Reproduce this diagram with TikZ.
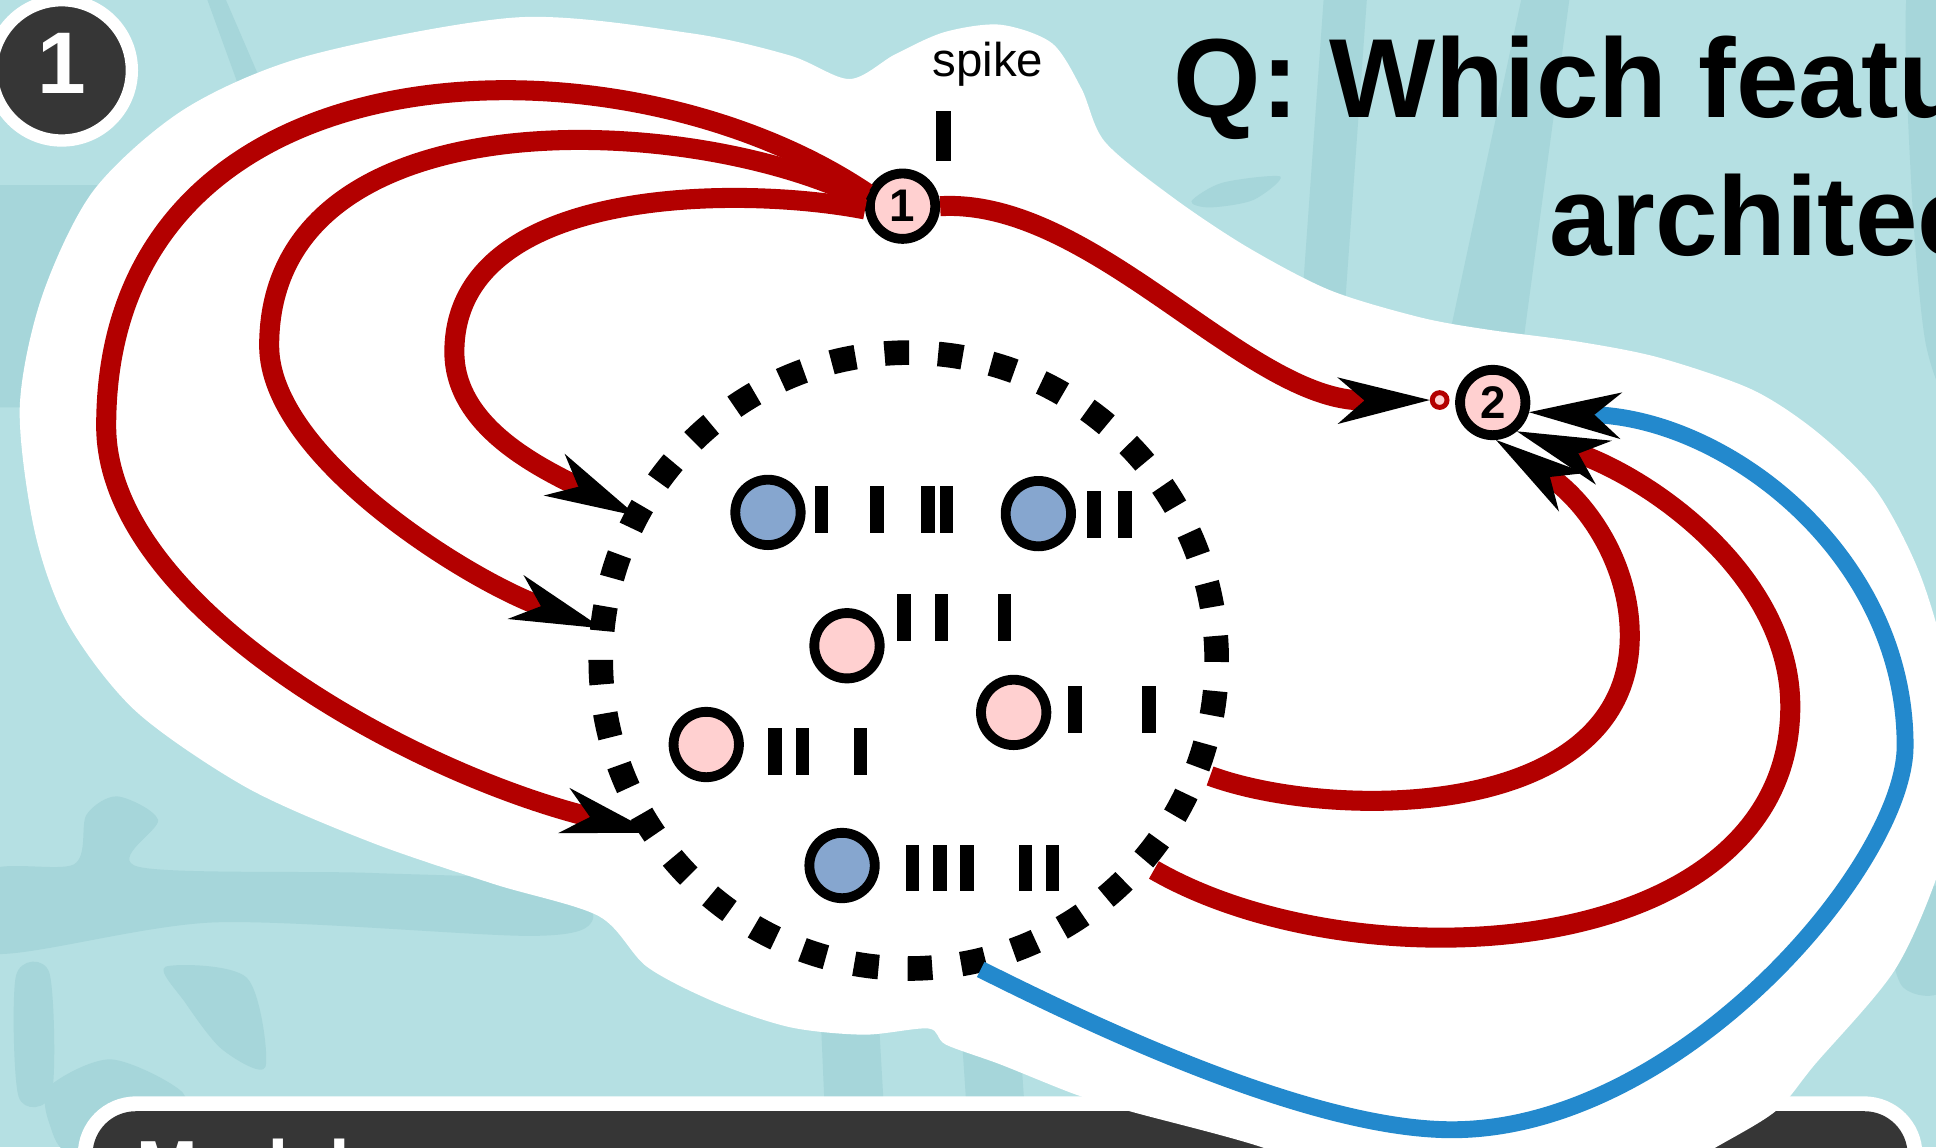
\documentclass[tikz,border=0pt]{standalone}
\usepackage{fontspec}
\setmainfont{Liberation Sans}
\usepackage{tikz}
\usetikzlibrary{arrows.meta}
\usepackage{xcolor}
\definecolor{sea}{HTML}{B5E0E3}
\definecolor{seadark}{HTML}{A6D6DA}
\definecolor{synred}{HTML}{B30000}
\definecolor{inhblue}{HTML}{2389CD}
\definecolor{excfill}{HTML}{FFD0D0}
\definecolor{inhfill}{HTML}{86A6CF}
\definecolor{barclr}{HTML}{363636}
\newcommand\spikerow[2]{
  \foreach \sx in {#2} \fill[black] (\sx-5.5,#1-19) rectangle (\sx+5.5,#1+19);
}

\begin{document}
\begin{tikzpicture}[x=0.012347cm, y=-0.012347cm,
	>={Stealth[length=26.3pt,width=13.3pt,inset=7.7pt,line width=0pt,color=black]},
	neuron/.style={circle, draw=black, line width=2.8pt, minimum size=18.6pt, inner sep=0pt, font=\bfseries\fontsize{13pt}{13pt}\selectfont},
	exc/.style={neuron, fill=excfill},
	inh/.style={neuron, fill=inhfill},
	redline/.style={draw=synred, line width=5.7pt},
	blueline/.style={draw=inhblue, line width=4.8pt},
	ringstart/.style={shorten <=4.2pt}]
		\useasboundingbox (0,0) rectangle (1568,929);
		\clip (0,0) rectangle (1568,929);
		\fill[sea] (0,0) rectangle (1568,929);
		\fill[seadark] (168,0) -- (183,0) -- (214,72) -- (197,80) -- cycle;
		\fill[seadark] (-10,150) -- (80,150) -- (60,330) -- (-10,330) -- cycle;
		\fill[seadark] plot[smooth cycle] coordinates {(-10,706) (60,700) (70,660) (95,645) (128,664) (112,702) (300,707) (450,715) (480,745) (430,758) (175,747) (-10,772)};
		\fill[seadark] plot[smooth cycle] coordinates {(134,783) (200,792) (215,864) (180,850) (150,812)};
		\fill[seadark] plot[smooth cycle] coordinates {(13,790) (40,788) (42,885) (15,888)};
		\fill[seadark] plot[smooth cycle] coordinates {(40,880) (90,858) (148,885) (140,915) (60,935) (40,910)};
		\fill[seadark] (665,830) -- (712,830) -- (716,900) -- (668,900) -- cycle;
		\fill[seadark] (779,840) -- (826,840) -- (830,900) -- (783,900) -- cycle;
		\fill[seadark] (1072,0) -- (1107,0) -- (1087,280) -- (1052,280) -- cycle;
		\fill[seadark] (1232,0) -- (1271,0) -- (1232,290) -- (1170,290) -- cycle;
		\fill[seadark] plot[smooth cycle] coordinates {(965,163) (990,148) (1037,143) (1015,162) (980,168)};
		\fill[seadark] plot[smooth cycle] coordinates {(1545,-10) (1580,-10) (1580,300) (1560,280) (1548,150)};
		\fill[seadark] plot[smooth cycle] coordinates {(1530,736) (1575,720) (1575,800) (1540,798)};
		\fill[white, rounded corners=16.5pt] (63,888) rectangle (1557,1010);
		\fill[barclr, rounded corners=12.3pt] (75,900) rectangle (1545,1010);
		\node[anchor=base west, inner sep=0pt, text=white, font=\bfseries\fontsize{21pt}{21pt}\selectfont] (bartitle) at (110,966) {Model};
		\fill[white] plot[smooth cycle] coordinates {(76,154) (150,88) (250,45) (420,14) (560,27) (640,45) (688,64) (725,44) (765,26) (810,20) (852,35) (876,72) (895,115) (950,160) (1010,200) (1077,235) (1150,257) (1205,267) (1280,277) (1345,290) (1420,316) (1473,351) (1520,398) (1555,465) (1578,545) (1585,625) (1572,700) (1535,785) (1470,862) (1438,900) (1385,932) (1330,965) (1080,965) (1030,932) (915,900) (870,886) (810,862) (766,846) (752,833) (700,838) (640,832) (580,812) (524,783) (485,742) (400,716) (300,682) (200,638) (110,576) (55,505) (28,430) (16,330) (34,240)};
		\node[anchor=base west, inner sep=0pt, font=\bfseries\fontsize{32pt}{32pt}\selectfont] (qline) at (950,95) {Q: Which featu};
		\node[anchor=base west, inner sep=0pt, font=\bfseries\fontsize{32pt}{32pt}\selectfont] (archline) at (1254,207) {architec};
		\node[circle, fill=barclr, draw=white, line width=3.5pt, minimum size=39.9pt, inner sep=0pt, text=white, text depth=3.9pt, font=\bfseries\fontsize{24.9pt}{24.9pt}\selectfont] (badge) at (50,57) {1};
		\node[anchor=base, inner sep=0pt, font=\fontsize{13.5pt}{13.5pt}\selectfont] (spk) at (800,62) {spike};
		\fill[black] (758,90) rectangle (770,130);
		\node[circle, draw=black, line width=7pt, dash pattern=on 7pt off 8.28pt, minimum size=175.2pt, inner sep=0pt, outer sep=0pt] (pop) at (736,535) {};
		\node[inh] (b1) at (622,415) {};
		\node[inh] (b2) at (841,416) {};
		\node[exc] (p1) at (686,523) {};
		\node[exc] (p2) at (821,577) {};
		\node[exc] (p3) at (572,603) {};
		\node[inh] (b3) at (682,701) {};
		\spikerow{413}{665.5,710.5,751.5,766.5}
		\spikerow{417}{886,911}
		\spikerow{500}{732,762.5,813.5}
		\spikerow{575}{870.5,930.5}
		\spikerow{609}{627.5,650,697}
		\spikerow{703}{739,761.5,783,830.5,852.5}
		\node[exc] (n1) at (731,167) {1};
		\node[exc] (n2) at (1209,326) {2};
		\node[circle, draw=synred, line width=1.4pt, fill=excfill, minimum size=4.2pt, inner sep=0pt] (syn) at (1166,324) {};
		\draw[redline, ->] (n1.160) .. controls (500,20) and (86,30) .. (86,345) .. controls (86,490) and (330,625) .. (pop.214);
		\draw[redline, ->] (n1.170) .. controls (560,90) and (218,75) .. (218,280) .. controls (218,370) and (380,470) .. (pop.174);
		\draw[redline, ->] (n1.185) .. controls (600,150) and (368,150) .. (368,285) .. controls (368,345) and (436,378) .. (pop.152);
		\draw[redline, ->] (n1.east) .. controls (885,160) and (1010,325) .. (syn.west);
		\draw[redline, ->, ringstart] (pop.-21) .. controls (1080,665) and (1320,665) .. (1320,515) .. controls (1320,455) and (1284,406) .. (n2.-85);
		\draw[redline, ->, ringstart] (pop.-41) .. controls (1100,800) and (1450,780) .. (1450,572) .. controls (1450,470) and (1344,391) .. (n2.-50);
		\draw[blueline, ->, ringstart] (pop.-79) .. controls (880,828) and (1060,915) .. (1176,915) .. controls (1360,915) and (1543,700) .. (1543,604) .. controls (1543,450) and (1400,340) .. (n2.-15);
\end{tikzpicture}
\end{document}
